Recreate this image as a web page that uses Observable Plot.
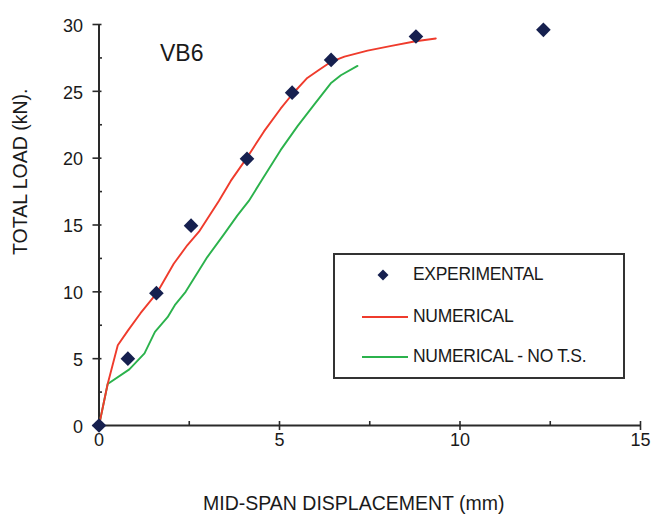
<!DOCTYPE html>
<html>
<head>
<meta charset="utf-8">
<script src="https://cdn.jsdelivr.net/npm/d3@7"></script>
<script src="https://cdn.jsdelivr.net/npm/@observablehq/plot@0.6"></script>
<style>
  html, body { margin: 0; padding: 0; background: #fff; }
  #wrap { position: relative; width: 652px; height: 516px; font-family: "Liberation Sans", Arial, sans-serif; }
  #legend { position: absolute; left: 333px; top: 253px; width: 288px; height: 122px; border: 2px solid #333; background: #fff; }
  .lg-item { position: absolute; left: 0; font-size: 17.5px; color: #1a1a1a; letter-spacing: -0.3px; white-space: nowrap; }
  .lg-item span.t { position: absolute; left: 78px; top: -11px; }
  .lg-line { position: absolute; left: 27px; width: 46px; height: 0; border-top: 2px solid; top: -1px; }
</style>
</head>
<body>
<div id="wrap">
  <div id="chart"></div>
  <div id="legend"></div>
</div>
<script>
// ---- data ----
const expX = [0, 0.8, 1.59, 2.55, 4.1, 5.35, 6.43, 8.78, 12.31];
const expY = [0, 5, 9.9, 14.95, 19.95, 24.9, 27.35, 29.1, 29.6];

const numX = [0, 0.24, 0.52, 0.8, 1.15, 1.6, 2.07, 2.45, 2.77, 3.32, 3.65, 4.09, 4.57, 5.03, 5.36, 5.77, 6.09, 6.42, 6.8, 7.44, 8.1, 8.77, 9.33];
const numY = [0, 3.1, 6.0, 7.1, 8.4, 9.9, 12.1, 13.5, 14.5, 16.8, 18.3, 20.0, 22.0, 23.7, 24.8, 26.0, 26.6, 27.2, 27.6, 28.05, 28.4, 28.75, 28.95];

const ntsX = [0, 0.24, 0.84, 1.26, 1.55, 1.9, 2.1, 2.4, 3.0, 3.46, 3.83, 4.15, 4.52, 5.03, 5.5, 5.96, 6.42, 6.7, 7.16];
const ntsY = [0, 3.1, 4.2, 5.4, 7.0, 8.1, 9.0, 10.0, 12.6, 14.3, 15.7, 16.8, 18.4, 20.6, 22.4, 24.0, 25.6, 26.2, 26.9];

const xTicks = [0, 5, 10, 15];
const xMinor = [2.5, 7.5, 12.5];
const yTicks = [0, 5, 10, 15, 20, 25, 30];
const yMinor = [2.5, 7.5, 12.5, 17.5, 22.5, 27.5];

const seriesNames = ["EXPERIMENTAL", "NUMERICAL", "NUMERICAL - NO T.S."];
const seriesColors = ["#16204f", "#ef3b2c", "#2bb24c"];
const chartLabel = "VB6";
const xTitle = "MID-SPAN DISPLACEMENT (mm)";
const yTitle = "TOTAL LOAD (kN).";

const exp = expX.map((x, i) => ({x, y: expY[i]}));
const num = numX.map((x, i) => ({x, y: numY[i]}));
const nts = ntsX.map((x, i) => ({x, y: ntsY[i]}));

const axisColor = "#2a2a2a";

const chart = Plot.plot({
  width: 652,
  height: 516,
  marginLeft: 98.5,
  marginRight: 12,
  marginTop: 24,
  marginBottom: 91,
  x: {domain: [0, 15]},
  y: {domain: [0, 30]},
  style: {fontFamily: '"Liberation Sans", Arial, sans-serif', color: "#1a1a1a", background: "#fff", overflow: "visible"},
  marks: [
    // axis lines
    Plot.ruleX([0], {stroke: axisColor, strokeWidth: 2}),
    Plot.ruleY([0], {stroke: axisColor, strokeWidth: 2}),
    // major ticks (crossing the axis)
    Plot.ruleY(yTicks, {y: d => d, x1: 0, x2: 0, insetLeft: -6, insetRight: -3, stroke: axisColor, strokeWidth: 1.6}),
    Plot.ruleX(xTicks, {x: d => d, y1: 0, y2: 0, insetTop: -4, insetBottom: -5, stroke: axisColor, strokeWidth: 1.6}),
    // minor ticks (inside only)
    Plot.ruleY(yMinor, {y: d => d, x1: 0, x2: 0, insetLeft: 0, insetRight: -3.5, stroke: axisColor, strokeWidth: 1.6}),
    Plot.ruleX(xMinor, {x: d => d, y1: 0, y2: 0, insetTop: -4, insetBottom: 0, stroke: axisColor, strokeWidth: 1.6}),
    // tick labels
    Plot.axisY({ticks: yTicks, tickSize: 0, tickPadding: 16, label: null, fontSize: 18, dy: 1.5}),
    Plot.axisX({ticks: xTicks, tickSize: 0, tickPadding: 8, label: null, fontSize: 18}),
    // titles
    Plot.text([xTitle], {text: d => d, frameAnchor: "bottom", lineAnchor: "middle", dx: -16, dy: 78.5, fontSize: 19.5, letterSpacing: "-0.5px"}),
    Plot.text([yTitle], {text: d => d, frameAnchor: "left", lineAnchor: "middle", rotate: -90, dx: -78, dy: 30, fontSize: 19.5, letterSpacing: "-0.5px"}),
    Plot.text([chartLabel], {text: d => d, frameAnchor: "top-left", textAnchor: "start", lineAnchor: "middle", dx: 61, dy: 29.5, fontSize: 23}),
    // series
    Plot.line(nts, {x: "x", y: "y", stroke: seriesColors[2], strokeWidth: 1.9}),
    Plot.line(num, {x: "x", y: "y", stroke: seriesColors[1], strokeWidth: 1.9}),
    Plot.dot(exp, {x: "x", y: "y", symbol: "diamond2", r: 6.6, fill: seriesColors[0], stroke: "none"})
  ]
});
document.getElementById("chart").appendChild(chart);

// legend
const legend = document.getElementById("legend");
const rowsY = [20, 62, 102];
seriesNames.forEach((name, i) => {
  const item = document.createElement("div");
  item.className = "lg-item";
  item.style.top = rowsY[i] + "px";
  if (i === 0) {
    item.innerHTML = `<svg style="position:absolute;left:42px;top:-6px" width="12" height="12"><polygon points="6,0.5 11.5,6 6,11.5 0.5,6" fill="${seriesColors[0]}"/></svg>`;
  } else {
    item.innerHTML = `<div class="lg-line" style="border-color:${seriesColors[i]}"></div>`;
  }
  item.innerHTML += `<span class="t">${name}</span>`;
  legend.appendChild(item);
});
</script>
</body>
</html>
